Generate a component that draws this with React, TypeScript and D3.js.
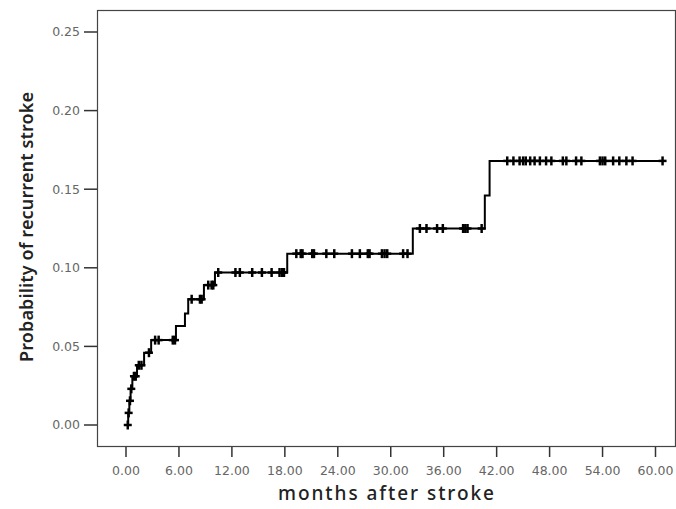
import React, { useEffect, useRef } from 'react';
import * as d3 from 'd3';

// step times (months) and cumulative probability after each event
const eventTimes = [0.25, 0.38, 0.52, 0.72, 1.25, 2.05, 2.85, 5.66, 6.68, 7.05, 8.83, 10.08, 18.27, 32.5, 40.66, 41.2];
const eventLevels = [0.0077, 0.0154, 0.023, 0.031, 0.038, 0.046, 0.054, 0.063, 0.071, 0.08, 0.089, 0.097, 0.109, 0.125, 0.146, 0.168];

// censored cases (months)
const censorTimes = [
  0.2, 0.3, 0.45, 0.6, 0.9, 1.1, 1.45, 1.75, 2.6,
  3.3, 3.7, 5.3, 5.55,
  7.44, 8.38, 8.57,
  9.32, 9.7, 9.89,
  10.45, 12.4, 12.9, 14.3, 15.4, 16.5, 17.4, 17.7, 17.9,
  19.3, 19.8, 20.0, 21.1, 21.3, 22.7, 23.6, 25.6, 26.5, 27.4, 27.6, 29.0, 29.3, 29.6, 31.4, 31.9,
  33.3, 34.05, 35.25, 35.9, 38.2, 38.45, 38.7, 40.3,
  43.2, 43.9, 44.6, 45.0, 45.3, 45.8, 46.3, 46.9, 47.6, 48.2, 49.5, 49.9, 51.0, 51.6,
  53.7, 54.0, 54.3, 55.2, 55.9, 56.7, 57.4, 60.8,
];

const xTicks = [0, 6, 12, 18, 24, 30, 36, 42, 48, 54, 60];
const yTicks = [0, 0.05, 0.1, 0.15, 0.2, 0.25];

const levelAt = (t: number) => {
  let p = 0;
  eventTimes.forEach((e, i) => {
    if (e <= t) p = eventLevels[i];
  });
  return p;
};

const App = () => {
  const ref = useRef<SVGSVGElement>(null);

  useEffect(() => {
    const svg = d3.select(ref.current);
    svg.selectAll('*').remove();

    const box = { left: 97, top: 10, right: 675, bottom: 446 };
    const x = d3.scaleLinear().domain([0, 60]).range([126, 655.5]);
    const y = d3.scaleLinear().domain([0, 0.25]).range([425, 32]);

    const font = '"DejaVu Sans", sans-serif';

    // frame
    svg
      .append('rect')
      .attr('x', box.left + 0.5)
      .attr('y', box.top + 0.5)
      .attr('width', box.right - box.left)
      .attr('height', box.bottom - box.top)
      .attr('fill', 'none')
      .attr('stroke', '#444')
      .attr('stroke-width', 1.2);

    // y axis
    const yAxis = svg.append('g');
    yTicks.forEach((v) => {
      yAxis
        .append('line')
        .attr('x1', 84)
        .attr('x2', box.left)
        .attr('y1', y(v))
        .attr('y2', y(v))
        .attr('stroke', '#333')
        .attr('stroke-width', 1.5);
      yAxis
        .append('text')
        .attr('x', 80)
        .attr('y', y(v))
        .attr('dy', '0.35em')
        .attr('text-anchor', 'end')
        .attr('font-family', font)
        .attr('font-size', 12.5)
        .attr('fill', '#666')
        .text(d3.format('.2f')(v));
    });

    // x axis
    const xAxis = svg.append('g');
    xTicks.forEach((v) => {
      xAxis
        .append('line')
        .attr('x1', x(v))
        .attr('x2', x(v))
        .attr('y1', box.bottom + 1)
        .attr('y2', box.bottom + 11)
        .attr('stroke', '#333')
        .attr('stroke-width', 1.5);
      xAxis
        .append('text')
        .attr('x', x(v))
        .attr('y', 475)
        .attr('text-anchor', 'middle')
        .attr('font-family', font)
        .attr('font-size', 12.5)
        .attr('fill', '#666')
        .text(d3.format('.2f')(v));
    });

    // axis titles
    svg
      .append('text')
      .attr('x', 386)
      .attr('y', 500)
      .attr('text-anchor', 'middle')
      .attr('font-family', '"Noto Sans", sans-serif')
      .attr('font-size', 19)
      .attr('font-weight', 500)
      .attr('fill', '#222')
      .attr('textLength', 216)
      .attr('lengthAdjust', 'spacing')
      .text('months after stroke');

    svg
      .append('text')
      .attr('transform', 'translate(33,227) rotate(-90)')
      .attr('text-anchor', 'middle')
      .attr('font-family', '"Noto Sans", sans-serif')
      .attr('font-size', 18)
      .attr('font-weight', 600)
      .attr('fill', '#222')
      .attr('textLength', 270)
      .attr('lengthAdjust', 'spacing')
      .text('Probability of recurrent stroke');

    // step curve
    const lastT = d3.max(censorTimes) as number;
    const pts: [number, number][] = [[0, 0]];
    eventTimes.forEach((t, i) => pts.push([t, eventLevels[i]]));
    pts.push([lastT, eventLevels[eventLevels.length - 1]]);

    svg
      .append('path')
      .datum(pts)
      .attr('fill', 'none')
      .attr('stroke', '#000')
      .attr('stroke-width', 2)
      .attr(
        'd',
        d3
          .line<[number, number]>()
          .curve(d3.curveStepAfter)
          .x((d) => x(d[0]))
          .y((d) => y(d[1]))
      );

    // censor marks
    const marks = svg.append('g').attr('stroke', '#000').attr('stroke-width', 2.5);
    censorTimes.forEach((t) => {
      const cx = x(t);
      const cy = y(levelAt(t));
      marks.append('line').attr('x1', cx).attr('x2', cx).attr('y1', cy - 4.5).attr('y2', cy + 4.5);
      marks.append('line').attr('x1', cx - 4).attr('x2', cx + 4).attr('y1', cy).attr('y2', cy);
    });
  }, []);

  return (
    <svg
      ref={ref}
      width={676}
      height={509}
      style={{ position: 'absolute', left: 0, top: 0, background: '#fff' }}
    />
  );
};

export default App;
